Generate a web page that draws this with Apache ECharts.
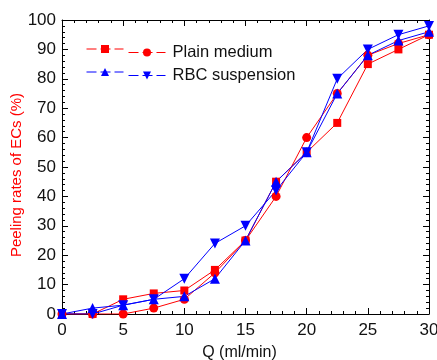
<!DOCTYPE html>
<html><head><meta charset="utf-8">
<script src="https://cdn.jsdelivr.net/npm/echarts@6/dist/echarts.min.js"></script>
<style>html,body{margin:0;padding:0;background:#fff}#c{width:437px;height:360px}</style>
</head><body><div id="c"></div>
<script>
const flowRates = [0, 2.5, 5, 7.5, 10, 12.5, 15, 17.5, 20, 22.5, 25, 27.5, 30];
const plainSquare = [0, 0, 5, 7, 8, 15, 25, 45, 55, 65, 85, 90, 95];
const plainCircle = [0, 0, 0, 2, 5, 14, 25, 40, 60, 75, 88, 92, 95];
const rbcUp = [0, 2, 3, 5, 6, 12, 25, 45, 55, 75, 88, 93, 96];
const rbcDown = [0, 0, 3, 5, 12, 24, 30, 42, 55, 80, 90, 95, 98];
const xTicks = [0, 5, 10, 15, 20, 25, 30];
const yTicks = [0, 10, 20, 30, 40, 50, 60, 70, 80, 90, 100];
const legendLabels = ['Plain medium', 'RBC suspension'];
const xTitle = 'Q (ml/min)';
const yTitle = 'Peeling rates of ECs (%)';

const RED = '#ff0000', BLUE = '#0000ff';
const FONT = 'Liberation Sans, Arial, sans-serif';
const NARROW = '"Liberation Sans Narrow", "Arial Narrow", "Liberation Sans", sans-serif';
const pairs = v => flowRates.map((x, i) => [x, v[i]]);

function mkSeries(name, data, color, symbol, size, rotate) {
  return {
    name, type: 'line', data: pairs(data), symbol, symbolSize: size, symbolRotate: rotate || 0,
    lineStyle: { color, width: 1 }, itemStyle: { color }, animation: false, z: 3
  };
}
const series = [
  mkSeries('sq', plainSquare, RED, 'rect', 8),
  mkSeries('ci', plainCircle, RED, 'circle', 9),
  mkSeries('up', rbcUp, BLUE, 'triangle', 10),
  mkSeries('dn', rbcDown, BLUE, 'triangle', 10, 180)
];

function mkLegend(name, left, top, color, label) {
  return {
    data: [name], left, top, itemWidth: 37, itemHeight: 10, itemGap: 0, padding: 0,
    selectedMode: false,
    lineStyle: { type: [10, 4], width: 1, color },
    formatter: () => label,
    textStyle: { fontFamily: FONT, fontSize: 16.5, color: '#111', padding: [0, 0, 0, 2] }
  };
}
const legends = [
  mkLegend('sq', 86, 44, RED, ''),
  mkLegend('ci', 128, 44, RED, legendLabels[0]),
  mkLegend('up', 86, 67, BLUE, ''),
  mkLegend('dn', 128, 67, BLUE, legendLabels[1])
];

const axisCommon = {
  axisLine: { show: true, onZero: false, lineStyle: { color: '#000', width: 1 } },
  axisTick: { show: true, inside: true, length: 6, lineStyle: { color: '#000' } },
  minorTick: { show: true, splitNumber: 5, length: 3, lineStyle: { color: '#000' } },
  splitLine: { show: false },
};

const option = {
  animation: false,
  grid: { left: 62, right: 8, top: 20, bottom: 46, containLabel: false, outerBoundsMode: 'none' },
  legend: legends,
  graphic: [{
    type: 'text', x: 17, y: 175, rotation: Math.PI / 2, silent: true,
    style: { text: yTitle, fill: RED, font: '15px ' + FONT, textAlign: 'center', textVerticalAlign: 'middle' }
  }],
  xAxis: [
    Object.assign({}, axisCommon, {
      type: 'value', min: xTicks[0], max: xTicks[xTicks.length - 1], interval: 5,
      axisLabel: { fontFamily: NARROW, fontSize: 17, color: '#111', margin: 8 },
      name: xTitle, nameLocation: 'middle', nameGap: 31,
      nameTextStyle: { fontFamily: FONT, fontSize: 16, color: '#111', padding: [0, 12, 0, 0] }
    }),
    Object.assign({}, axisCommon, {
      type: 'value', position: 'top', min: 0, max: 30, interval: 5,
      axisLabel: { show: false }
    })
  ],
  yAxis: [
    Object.assign({}, axisCommon, {
      type: 'value', min: yTicks[0], max: yTicks[yTicks.length - 1], interval: 10,
      axisLabel: { fontFamily: NARROW, fontSize: 17, color: '#111', margin: 6 }
    }),
    Object.assign({}, axisCommon, {
      type: 'value', position: 'right', min: 0, max: 100, interval: 10,
      axisLabel: { show: false }
    })
  ],
  series
};
const chart = echarts.init(document.getElementById('c'), null, { renderer: 'canvas' });
chart.setOption(option);
</script></body></html>
